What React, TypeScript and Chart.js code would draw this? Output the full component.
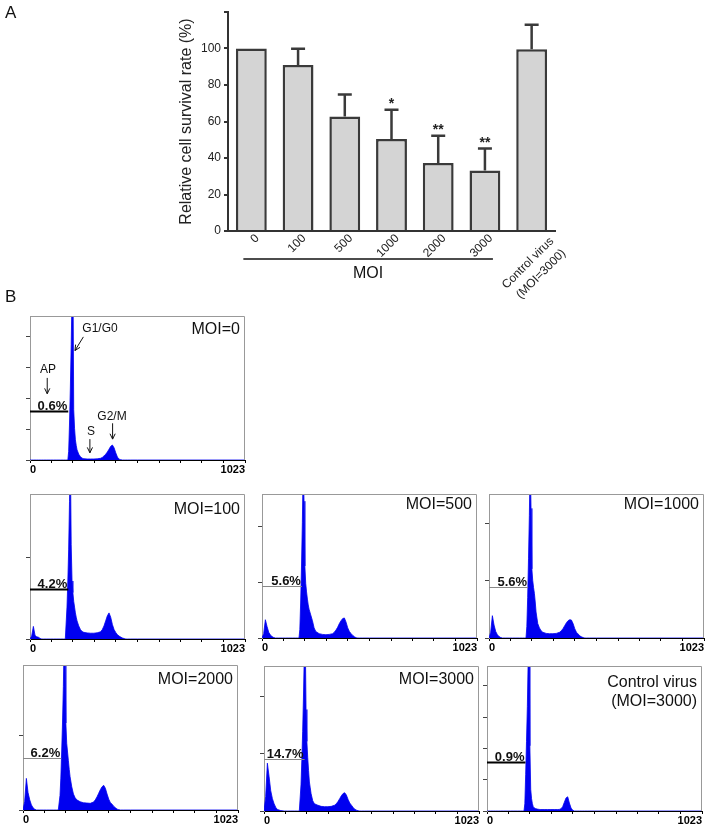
import React, { useEffect, useRef } from "react";
import { Chart, registerables } from "chart.js";

Chart.register(...registerables);

const FONT = "Arial, 'Liberation Sans', Helvetica, sans-serif";

/* ---------------- Panel A : survival ---------------- */
const survivalCategories: (string | string[])[] = ["0", "100", "500", "1000", "2000", "3000", ["Control virus", "(MOI=3000)"]];
const survivalMeans = [100, 90.9, 62.8, 50.4, 37.2, 33.2, 99.6];
const survivalErrors = [0, 9, 12, 16, 15, 12, 13.4];
const survivalStars = ["", "", "", "*", "**", "**", ""];
const survivalYMax = 120;
const survivalYStep = 20;

/* ---------------- Panel B : cell-cycle histograms ---------------- */
// DNA-content channels (bin positions, 0..1023)
const histChannels = [
  0, 8, 16, 24, 32, 40, 48, 56, 64,
  80, 96, 112, 128, 144, 160, 168,
  176, 180, 184, 188, 192, 196, 200, 204, 208, 212, 216, 220, 224,
  232, 240, 248, 256, 272, 288, 304, 320, 336,
  344, 352, 360, 368, 376, 384, 392, 400, 408, 416, 424, 432, 440, 448, 456, 464,
  480, 512, 1023,
];
// relative counts (% of plot height; peaks above 100 are off-scale)
const countsMoi0 = [
  0, 0, 0, 0, 0, 0, 0, 0, 0,
  0, 0, 0, 0, 0, 0, 0,
  0, 0, 6, 25, 50, 80, 115, 140, 35, 22, 14, 10, 7,
  4, 2.3, 1.3, 0.9, 0.7, 0.7, 0.7, 0.8, 1.2,
  1.8, 2.8, 4, 5.5, 7.5, 9.5, 10.4, 8.5, 5, 2, 0.6, 0.2, 0, 0, 0, 0,
  0, 0, 0,
];
const countsMoi100 = [
  0, 2, 8.7, 2.5, 1.5, 1.2, 0.4, 0, 0,
  0, 0, 0, 0, 0, 0, 0,
  22, 40, 62, 95, 130, 65, 40, 32, 26, 22, 18, 15, 12.5,
  9, 6.5, 5.2, 4.6, 4.2, 4, 4, 4.3, 5,
  6.5, 9, 12.5, 16, 18, 15, 10, 6.5, 4.5, 3, 2, 1.3, 0.7, 0.3, 0, 0,
  0, 0, 0,
];
const countsMoi500 = [
  0, 3, 12.7, 8, 4, 2, 1, 0.3, 0,
  0, 0, 0, 0, 0, 0, 0,
  0, 6, 25, 50, 80, 120, 95, 50, 38, 32, 27, 23, 20,
  16, 12, 7, 4.5, 3, 2.5, 2.3, 2.5, 3,
  4, 5.5, 7.5, 10, 12, 13.5, 13.9, 11, 7, 4.5, 3, 1.8, 0.8, 0.2, 0, 0,
  0, 0, 0,
];
const countsMoi1000 = [
  0, 4, 15.5, 9, 4.5, 2.2, 1, 0.3, 0,
  0, 0, 0, 0, 0, 0, 0,
  0, 8, 28, 55, 85, 125, 90, 48, 40, 35, 31, 25, 18,
  10, 7, 5, 4, 3.2, 3, 3, 3.2, 4,
  5, 6.5, 8.5, 10.5, 12, 12.7, 12.5, 10, 6.5, 4, 2.8, 1.5, 0.8, 0.3, 0, 0,
  0, 0, 0,
];
const countsMoi2000 = [
  0, 6, 21.8, 12, 7, 3.5, 1.5, 0.5, 0,
  0, 0, 0, 0, 0, 0, 0,
  10, 22, 40, 60, 85, 120, 100, 60, 46, 40, 34, 28, 23,
  16, 11, 8.5, 7, 5.7, 5, 4.8, 4.6, 5.5,
  7, 9, 11.5, 14, 16, 17, 15, 11, 7.5, 5, 4, 2.5, 1.5, 0.6, 0.2, 0,
  0, 0, 0,
];
const countsMoi3000 = [
  0, 10, 33, 24, 14, 8.5, 5, 2.5, 1,
  0.3, 0, 0, 0, 0, 0, 0,
  18, 35, 55, 80, 110, 125, 70, 48, 37, 28, 20, 16, 12,
  7, 5, 4.5, 4, 3.2, 3, 3, 3.2, 4,
  5, 6.5, 8.5, 10.5, 12, 12.6, 11, 8, 5.5, 4, 2.5, 1.2, 0.6, 0.2, 0, 0,
  0, 0, 0,
];
const countsControl = [
  0, 0, 0, 0, 0, 0, 0, 0, 0,
  0, 0, 0, 0, 0, 0, 0,
  0, 5, 25, 48, 72, 105, 140, 45, 15, 8.5, 5, 3, 2.2,
  1.6, 1.3, 1.1, 1, 1, 1, 1, 1, 1,
  1.1, 1.5, 3, 6, 9, 9.8, 5.5, 2, 0.5, 0, 0, 0, 0, 0, 0, 0,
  0, 0, 0,
];
const histCounts = [countsMoi0, countsMoi100, countsMoi500, countsMoi1000, countsMoi2000, countsMoi3000, countsControl];
const histTitles = [["MOI=0"], ["MOI=100"], ["MOI=500"], ["MOI=1000"], ["MOI=2000"], ["MOI=3000"], ["Control virus", "(MOI=3000)"]];
const apPercents = ["0.6%", "4.2%", "5.6%", "5.6%", "6.2%", "14.7%", "0.9%"];
const apGateEnds = [182, 182, 190, 186, 182, 193, 183];
const apGateLevels = [34, 34.5, 35.8, 35.3, 35.6, 35.6, 33.9];
const histYTickSteps = [21.5, 55.9, 38.7, 39.7, 51.7, 39.5, 21.6];
const histXTicks = [0, 102.3, 204.6, 306.9, 409.2, 511.5, 613.8, 716.1, 818.4, 920.7, 1023];
const histXMax = 1023;
const histYMax = 100;
// phase annotations on the MOI=0 histogram (channel, level)
const phaseLabels = ["AP", "G1/G0", "S", "G2/M"];
const phaseLabelAt = [[86, 62.5], [333, 91], [290, 20], [390, 30]];
const phaseArrowFrom = [[82, 57], [254, 85.5], [285, 14.5], [393, 25.5]];
const phaseArrowTo = [[82, 46], [214, 76], [285, 5], [393, 14.5]];

/* ---------------- layout / styles ---------------- */
const HIST_BLUE = "#0000f0";
const BOX_W = 215;
const PAD_L = 12;
const PAD_T = 2;
const PAD_R = 4;
const X_H = 18;
const histLayout = [
  { left: 30, top: 316, height: 144, titleDy: 14, strongGate: true },
  { left: 30, top: 494, height: 145, titleDy: 16, strongGate: true },
  { left: 262, top: 494, height: 144, titleDy: 11, strongGate: false },
  { left: 489, top: 494, height: 144, titleDy: 11, strongGate: false },
  { left: 23, top: 665, height: 145, titleDy: 15, strongGate: false },
  { left: 264, top: 666, height: 145, titleDy: 14, strongGate: false },
  { left: 487, top: 666, height: 145, titleDy: 17, strongGate: true },
];

function SurvivalChart() {
  const ref = useRef<HTMLCanvasElement | null>(null);
  useEffect(() => {
    if (!ref.current) return;
    const overlay = {
      id: "survivalOverlay",
      afterDatasetsDraw(chart: any) {
        const { ctx, scales, chartArea } = chart;
        const y = scales.y;
        const x = scales.x;
        const meta = chart.getDatasetMeta(0);
        ctx.save();
        ctx.strokeStyle = "#3a3a3a";
        ctx.lineWidth = 2.5;
        meta.data.forEach((bar: any, i: number) => {
          const cx = bar.x;
          const top = y.getPixelForValue(survivalMeans[i] + survivalErrors[i]);
          if (survivalErrors[i] > 0) {
            ctx.beginPath();
            ctx.moveTo(cx, bar.y);
            ctx.lineTo(cx, top);
            ctx.moveTo(cx - 7, top);
            ctx.lineTo(cx + 7, top);
            ctx.stroke();
          }
          if (survivalStars[i]) {
            ctx.fillStyle = "#222";
            ctx.font = `bold 14px ${FONT}`;
            ctx.textAlign = "center";
            ctx.textBaseline = "alphabetic";
            ctx.fillText(survivalStars[i], cx, top - 2);
          }
        });
        // rotated category labels
        ctx.fillStyle = "#222";
        ctx.font = `12px ${FONT}`;
        ctx.textAlign = "right";
        ctx.textBaseline = "middle";
        survivalCategories.forEach((lab, i) => {
          const cx = x.getPixelForValue(i);
          ctx.save();
          ctx.translate(cx + 6, chartArea.bottom + 5.5);
          ctx.rotate(-Math.PI / 4);
          if (Array.isArray(lab)) {
            ctx.fillText(lab[0], 8, 12);
            ctx.fillText(lab[1], 8, 29);
          } else {
            ctx.fillText(lab, 0, 0);
          }
          ctx.restore();
        });
        // MOI bracket
        const x0 = x.getPixelForValue(0) - 8;
        const x5 = x.getPixelForValue(5) + 8;
        const yb = chartArea.bottom + 28;
        ctx.strokeStyle = "#111";
        ctx.lineWidth = 1.5;
        ctx.beginPath();
        ctx.moveTo(x0, yb);
        ctx.lineTo(x5, yb);
        ctx.stroke();
        ctx.fillStyle = "#111";
        ctx.font = `16px ${FONT}`;
        ctx.textAlign = "center";
        ctx.textBaseline = "middle";
        ctx.fillText("MOI", (x0 + x5) / 2, yb + 15);
        ctx.restore();
      },
    };
    const chart = new Chart(ref.current, {
      type: "bar",
      data: {
        labels: survivalCategories as any,
        datasets: [
          {
            data: survivalMeans,
            backgroundColor: "#d4d4d4",
            borderColor: "#3a3a3a",
            borderWidth: 2.5,
            barPercentage: 0.66,
            categoryPercentage: 1,
          },
        ],
      },
      options: {
        animation: false,
        responsive: false,
        maintainAspectRatio: false,
        layout: { padding: { left: 177, top: 12, right: 45, bottom: 0 } },
        plugins: { legend: { display: false }, tooltip: { enabled: false } },
        scales: {
          x: {
            grid: { display: false, drawTicks: false },
            border: { display: true, color: "#333", width: 2 },
            ticks: { display: false },
            afterFit: (s: any) => {
              s.height = 79;
            },
          },
          y: {
            min: 0,
            max: survivalYMax,
            ticks: {
              stepSize: survivalYStep,
              padding: 3,
              color: "#222",
              font: { family: FONT, size: 12 },
              callback: (v: any) => (v === survivalYMax ? "" : v),
            },
            grid: { drawOnChartArea: false, drawTicks: true, tickLength: 4, color: "#333", lineWidth: 2 },
            border: { color: "#333", width: 2 },
            title: {
              display: true,
              text: "Relative cell survival rate (%)",
              color: "#222",
              padding: 0,
              font: { family: FONT, size: 16 },
            },
            afterFit: (s: any) => {
              s.width = 51;
            },
          },
        },
      },
      plugins: [overlay],
    } as any);
    return () => chart.destroy();
  }, []);
  return <canvas ref={ref} width={600} height={310} style={{ position: "absolute", left: 0, top: 0 }} />;
}

function FlowHistogram({ index }: { index: number }) {
  const ref = useRef<HTMLCanvasElement | null>(null);
  const lay = histLayout[index];
  const cw = BOX_W + PAD_L + PAD_R;
  const ch = lay.height + PAD_T + X_H;
  useEffect(() => {
    if (!ref.current) return;
    const overlay = {
      id: "histOverlay",
      afterDatasetsDraw(chart: any) {
        const { ctx, chartArea: a, scales } = chart;
        const xs = scales.x;
        const ys = scales.y;
        ctx.save();
        // box top & right
        ctx.strokeStyle = "#999";
        ctx.lineWidth = 1;
        ctx.beginPath();
        ctx.moveTo(a.left, a.top + 0.5);
        ctx.lineTo(a.right - 0.5, a.top + 0.5);
        ctx.lineTo(a.right - 0.5, a.bottom);
        ctx.stroke();
        // AP gate
        const gy = Math.round(ys.getPixelForValue(apGateLevels[index])) + 0.5;
        const gx0 = xs.getPixelForValue(0);
        const gx1 = xs.getPixelForValue(apGateEnds[index]);
        ctx.strokeStyle = lay.strongGate ? "#000" : "#888";
        ctx.lineWidth = lay.strongGate ? 2 : 1;
        ctx.beginPath();
        ctx.moveTo(gx0, gy);
        ctx.lineTo(gx1, gy);
        ctx.stroke();
        ctx.fillStyle = "#111";
        ctx.font = `bold 13px ${FONT}`;
        ctx.textAlign = "right";
        ctx.textBaseline = "alphabetic";
        ctx.fillText(apPercents[index], gx1 - 1, gy - 2);
        // title
        ctx.font = `16px ${FONT}`;
        ctx.textBaseline = "middle";
        histTitles[index].forEach((t, k) => {
          ctx.fillText(t, a.right - 5, a.top + lay.titleDy + k * 19);
        });
        // phase annotations
        if (index === 0) {
          ctx.font = `12px ${FONT}`;
          ctx.textAlign = "center";
          ctx.strokeStyle = "#111";
          ctx.lineWidth = 1;
          phaseLabels.forEach((t, k) => {
            const tx = xs.getPixelForValue(phaseLabelAt[k][0]);
            const ty = ys.getPixelForValue(phaseLabelAt[k][1]);
            ctx.fillText(t, tx, ty);
            const fx = xs.getPixelForValue(phaseArrowFrom[k][0]);
            const fy = ys.getPixelForValue(phaseArrowFrom[k][1]);
            const tx2 = xs.getPixelForValue(phaseArrowTo[k][0]);
            const ty2 = ys.getPixelForValue(phaseArrowTo[k][1]);
            const ang = Math.atan2(ty2 - fy, tx2 - fx);
            const hl = 6;
            ctx.beginPath();
            ctx.moveTo(fx, fy);
            ctx.lineTo(tx2, ty2);
            ctx.moveTo(tx2 - hl * Math.cos(ang - 0.45), ty2 - hl * Math.sin(ang - 0.45));
            ctx.lineTo(tx2, ty2);
            ctx.lineTo(tx2 - hl * Math.cos(ang + 0.45), ty2 - hl * Math.sin(ang + 0.45));
            ctx.stroke();
          });
        }
        ctx.restore();
      },
    };
    const counts = histCounts[index];
    const chart = new Chart(ref.current, {
      type: "line",
      data: {
        datasets: [
          {
            data: histChannels.map((c, i) => ({ x: c, y: counts[i] })),
            borderColor: HIST_BLUE,
            backgroundColor: HIST_BLUE,
            borderWidth: 0.8,
            pointRadius: 0,
            fill: "origin",
            tension: 0,
            clip: 0,
          },
        ],
      },
      options: {
        animation: false,
        responsive: false,
        maintainAspectRatio: false,
        layout: { padding: { left: 0, top: PAD_T, right: PAD_R, bottom: 0 } },
        plugins: { legend: { display: false }, tooltip: { enabled: false } },
        scales: {
          x: {
            type: "linear",
            min: 0,
            max: histXMax,
            afterBuildTicks: (s: any) => {
              s.ticks = histXTicks.map((v) => ({ value: v }));
            },
            ticks: {
              autoSkip: false,
              maxRotation: 0,
              minRotation: 0,
              align: "inner",
              padding: 0,
              color: "#000",
              font: { family: FONT, size: 11, weight: "bold" },
              callback: (_v: any, i: number, arr: any[]) => (i === 0 ? "0" : i === arr.length - 1 ? "1023" : ""),
            },
            grid: { drawOnChartArea: false, drawTicks: true, tickLength: 3, color: "#000" },
            border: { color: "#000", width: 1 },
            afterFit: (s: any) => {
              s.height = X_H;
            },
          },
          y: {
            min: 0,
            max: histYMax,
            ticks: { display: false, stepSize: histYTickSteps[index], includeBounds: false },
            grid: { drawOnChartArea: false, drawTicks: true, tickLength: 4, color: "#444" },
            border: { color: "#999", width: 1 },
            afterFit: (s: any) => {
              s.width = PAD_L;
            },
          },
        },
      },
      plugins: [overlay],
    } as any);
    return () => chart.destroy();
  }, [index]);
  return (
    <canvas
      ref={ref}
      width={cw}
      height={ch}
      style={{ position: "absolute", left: lay.left - PAD_L, top: lay.top - PAD_T }}
    />
  );
}

export default function App() {
  const letter: React.CSSProperties = {
    position: "absolute",
    left: 5,
    fontFamily: FONT,
    fontSize: 17,
    lineHeight: "17px",
    color: "#111",
  };
  return (
    <div
      style={{
        position: "absolute",
        left: 0,
        top: 0,
        width: 710,
        height: 826,
        background: "#fff",
        overflow: "hidden",
      }}
    >
      <SurvivalChart />
      {histLayout.map((_, i) => (
        <FlowHistogram key={i} index={i} />
      ))}
      <div style={{ ...letter, top: 4 }}>A</div>
      <div style={{ ...letter, top: 288 }}>B</div>
    </div>
  );
}
